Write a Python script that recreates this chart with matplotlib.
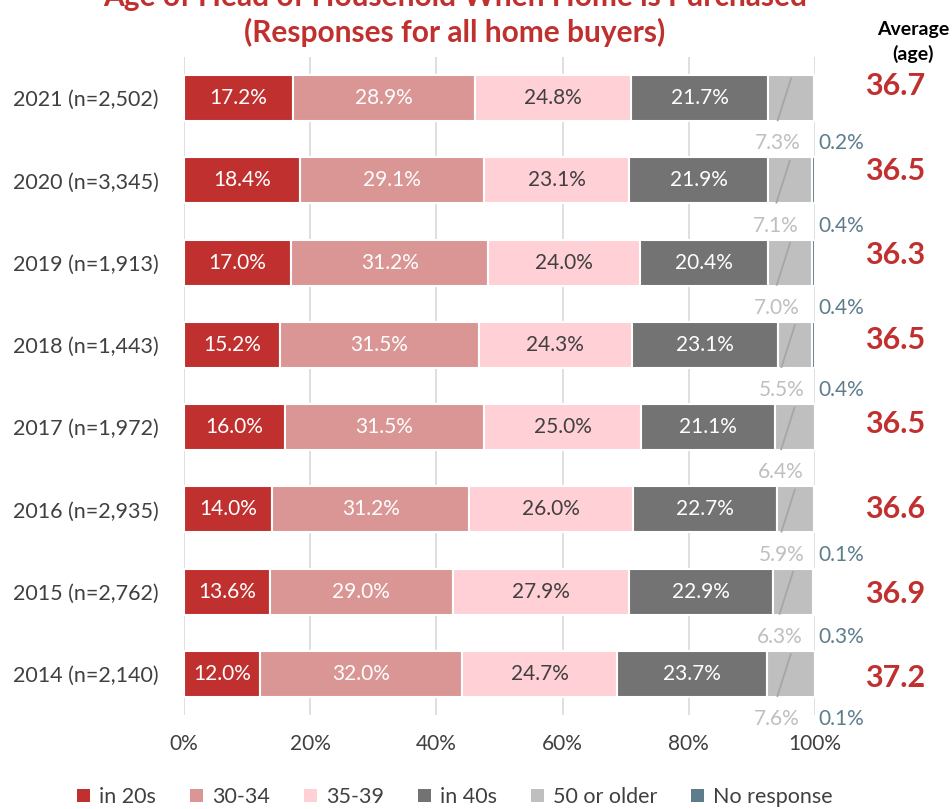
import matplotlib
matplotlib.use("Agg")
import matplotlib.pyplot as plt
from matplotlib.patches import Patch
import numpy as np

plt.rcParams['font.family'] = ['Lato', 'DejaVu Sans']

# --- data -------------------------------------------------------------
years = ["2021 (n=2,502)", "2020 (n=3,345)", "2019 (n=1,913)", "2018 (n=1,443)",
         "2017 (n=1,972)", "2016 (n=2,935)", "2015 (n=2,762)", "2014 (n=2,140)"]
in_20s = [17.2, 18.4, 17.0, 15.2, 16.0, 14.0, 13.6, 12.0]
age_30_34 = [28.9, 29.1, 31.2, 31.5, 31.5, 31.2, 29.0, 32.0]
age_35_39 = [24.8, 23.1, 24.0, 24.3, 25.0, 26.0, 27.9, 24.7]
in_40s = [21.7, 21.9, 20.4, 23.1, 21.1, 22.7, 22.9, 23.7]
over_50 = [7.3, 7.1, 7.0, 5.5, 6.4, 5.9, 6.3, 7.6]
no_response = [0.2, 0.4, 0.4, 0.4, 0.0, 0.1, 0.3, 0.1]
avg_age = [36.7, 36.5, 36.3, 36.5, 36.5, 36.6, 36.9, 37.2]

series_names = ["in 20s", "30-34", "35-39", "in 40s", "50 or older", "No response"]
colors = ["#C0302F", "#D99694", "#FFD0D6", "#737373", "#BFBFBF", "#5E7D8C"]
text_colors = ["white", "white", "#404040", "white", None, None]

RED = "#C0302F"
GREY_TXT = "#404040"
FS = 15

fig = plt.figure(figsize=(9.53, 8.09), dpi=100)
W, H = 953, 809
ax = fig.add_axes([184 / W, 1 - 715 / H, (815 - 184) / W, (715 - 57) / H])

ypos = np.arange(len(years))
series = [in_20s, age_30_34, age_35_39, in_40s, over_50, no_response]
left = np.zeros(len(years))
bar_h = 0.56
for vals, col, tc in zip(series, colors, text_colors):
    vals = np.array(vals)
    ax.barh(ypos, vals, left=left, height=bar_h, color=col,
            edgecolor="white", linewidth=1.5, zorder=2)
    if tc is not None:
        for y, l, v in zip(ypos, left, vals):
            ax.text(l + v / 2, y, f"{v:.1f}%", ha="center", va="center",
                    color=tc, fontsize=FS, zorder=3)
    left += vals

# labels for the two small segments, placed under each bar
start_50 = np.array(in_20s) + np.array(age_30_34) + np.array(age_35_39) + np.array(in_40s)
for y, s, v, nr in zip(ypos, start_50, over_50, no_response):
    mid = s + v / 2
    lx = mid - 2.2
    ax.plot([lx, mid], [y + bar_h / 2, y - bar_h / 2 + 0.03], color="#A6A6A6",
            linewidth=1.3, zorder=4, solid_capstyle="butt")
    ax.text(lx, y + 0.55, f"{v:.1f}%", ha="center", va="center",
            color="#BFBFBF", fontsize=FS, zorder=3)
    if nr > 0:
        ax.text(100.6, y + 0.55, f"{nr:.1f}%", ha="left", va="center",
                color="#5E7D8C", fontsize=FS, zorder=3, clip_on=False)

# average age column
for i, a in enumerate(avg_age):
    ax.text(112.7, -0.147 + 1.0286 * i, f"{a:.1f}", ha="center", va="center",
            color=RED, fontsize=22, fontweight="bold", clip_on=False)

ax.set_xlim(0, 100)
ax.set_ylim(len(years) - 0.5, -0.5)
ax.set_yticks(ypos)
ax.set_yticklabels(years, fontsize=15.5, color=GREY_TXT)
ax.set_xticks(np.arange(0, 101, 20))
ax.set_xticklabels([f"{t}%" for t in range(0, 101, 20)], fontsize=FS, color=GREY_TXT)
ax.tick_params(length=0, pad=18)
ax.tick_params(axis="x", pad=14)
ax.grid(axis="x", color="#D9D9D9", linewidth=1.2, zorder=0)
ax.set_axisbelow(True)
for sp in ax.spines.values():
    sp.set_visible(False)

fig.text(455 / W, 1 - (-3) / H, "Age of Head of Household When Home is Purchased",
         ha="center", va="center", color=RED, fontsize=21.5, fontweight="bold")
fig.text(455 / W, 1 - 32 / H, "(Responses for all home buyers)",
         ha="center", va="center", color=RED, fontsize=21.5, fontweight="bold")
fig.text(913 / W, 1 - 42 / H, "Average\n(age)", ha="center", va="center",
         color="black", fontsize=14, fontweight="bold", linespacing=1.45)

handles = [Patch(facecolor=c, edgecolor="none") for c in colors]
fig.legend(handles, series_names, loc="center", bbox_to_anchor=(455 / W, 1 - 797 / H),
           ncol=6, frameon=False, fontsize=15.5, handlelength=0.6, handleheight=0.6,
           handletextpad=0.4, columnspacing=1.6, labelcolor=GREY_TXT)

fig.savefig("out.png", dpi=100)
